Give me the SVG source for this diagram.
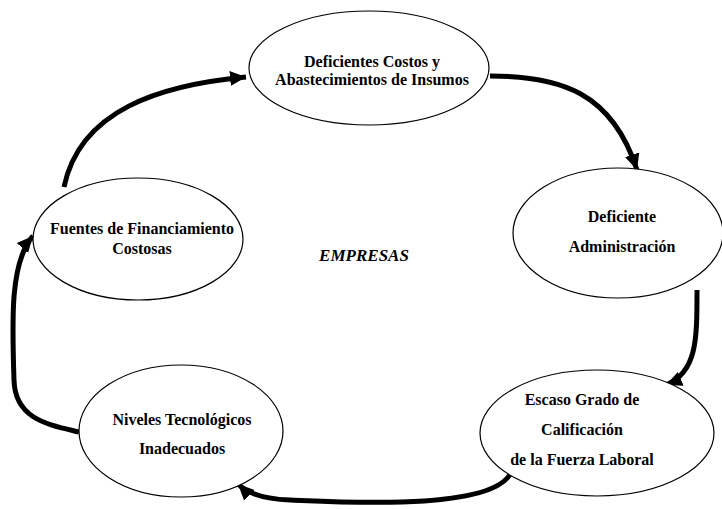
<svg xmlns="http://www.w3.org/2000/svg" width="722" height="509" viewBox="0 0 722 509">
<style>
.node ellipse{fill:#fff;stroke:#000;stroke-width:1.2}
text{font-family:"Liberation Serif","Times New Roman",serif;font-weight:bold;font-size:16px;fill:#000;text-anchor:middle}
.conn path{fill:none;stroke:#000;stroke-width:5}
</style>
<defs>
<marker id="ah" markerUnits="userSpaceOnUse" markerWidth="18" markerHeight="18" viewBox="0 0 18 18" refX="16" refY="9" orient="auto">
<path d="M0,1.5 L16,9 L0,16.5 Z" fill="#000"/>
</marker>
</defs>
<rect width="722" height="509" fill="#fff"/>
<g class="conn">
<path d="M64,187 C80,110 160,85 246,77" marker-end="url(#ah)"/>
<path d="M490,76 C560,76 612,92 637,170" marker-end="url(#ah)"/>
<path d="M697,290 C697,340 697,372 666,385" marker-end="url(#ah)"/>
<path d="M512,470 C500,512 340,502 290,500 C265,499 248,494 238,484" marker-end="url(#ah)"/>
<path d="M79,432 C50,425 15,420 14,380 C12,320 10,262 33,236" marker-end="url(#ah)"/>
</g>
<g id="n1" class="node">
<ellipse cx="369" cy="68" rx="120" ry="57"/>
<text x="372" y="67">Deficientes Costos y</text>
<text x="372" y="85">Abastecimientos de Insumos</text>
</g>
<g id="n2" class="node">
<ellipse cx="618" cy="233" rx="105" ry="65"/>
<text x="622" y="222">Deficiente</text>
<text x="622" y="252">Administración</text>
</g>
<g id="n3" class="node">
<ellipse cx="597" cy="433" rx="117" ry="63"/>
<text x="582" y="405">Escaso Grado de</text>
<text x="582" y="435">Calificación</text>
<text x="582" y="465">de la Fuerza Laboral</text>
</g>
<g id="n4" class="node">
<ellipse cx="181" cy="431" rx="102" ry="66"/>
<text x="182" y="425">Niveles Tecnológicos</text>
<text x="182" y="454">Inadecuados</text>
</g>
<g id="n5" class="node">
<ellipse cx="138" cy="239" rx="105" ry="61"/>
<text x="142" y="234">Fuentes de Financiamiento</text>
<text x="142" y="254">Costosas</text>
</g>
<text x="364" y="261" style="font-style:italic;font-size:17px">EMPRESAS</text>
</svg>
